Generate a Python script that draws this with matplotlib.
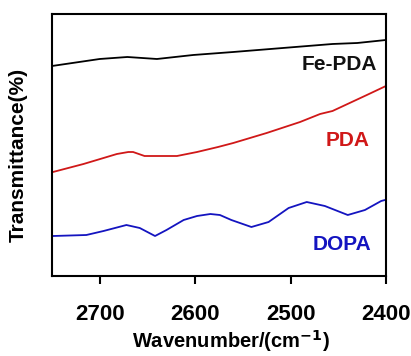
import matplotlib.pyplot as plt

plt.rcParams['font.family'] = ['Liberation Sans', 'DejaVu Sans']
plt.rcParams['font.weight'] = 'bold'

# readings from the picture (arbitrary transmittance units)
wn_fe = [2750, 2700, 2671, 2640, 2602, 2560, 2508, 2456, 2430, 2400]
fe_pda = [210, 217, 219, 217, 221, 224, 228, 232, 233, 236]

wn_pda = [2749, 2717, 2682, 2670, 2665, 2653, 2619, 2598, 2576, 2560, 2525, 2490,
          2469, 2456, 2438, 2420, 2400]
pda = [104, 112, 122, 124, 124, 120, 120, 124, 129, 133, 143, 154,
       162, 165, 173, 181, 190]

wn_dopa = [2749, 2714, 2696, 2672, 2658, 2642, 2630, 2612, 2598, 2584, 2574, 2562,
           2541, 2523, 2502, 2483, 2464, 2440, 2422, 2405, 2401]
dopa = [40, 41, 45, 51, 48, 40, 46, 56, 60, 62, 61, 56,
        49, 54, 68, 74, 70, 61, 66, 75, 76]

fig = plt.figure(figsize=(4.11, 3.56), dpi=100)
ax = fig.add_axes([0.1265, 0.2247, 0.8125, 0.736])

ax.plot(wn_fe, fe_pda, color='black', lw=1.3)
ax.plot(wn_pda, pda, color='#d01818', lw=1.3)
ax.plot(wn_dopa, dopa, color='#1414c0', lw=1.3)

ax.text(2449, 211, 'Fe-PDA', color='#111111', fontsize=15, ha='center', va='center')
ax.text(2440, 135, 'PDA', color='#d01818', fontsize=15, ha='center', va='center')
ax.text(2446, 32, 'DOPA', color='#1414c0', fontsize=15, ha='center', va='center')

ax.set_xlim(2750, 2400)
ax.set_ylim(0, 262)
ax.set_xticks([2700, 2600, 2500, 2400])
ax.set_yticks([])
ax.tick_params(axis='x', direction='out', length=6, width=1.5, labelsize=16, pad=14)
for s in ax.spines.values():
    s.set_linewidth(1.5)

ax.set_xlabel('Wavenumber/(cm$^{\\mathbf{-1}}$)', fontsize=14.5, fontweight='bold')
ax.set_ylabel('Transmittance(%)', fontsize=15, fontweight='bold')
ax.xaxis.set_label_coords(0.537, -0.198)
ax.yaxis.set_label_coords(-0.072, 0.462)

plt.savefig('out.png', dpi=100)
